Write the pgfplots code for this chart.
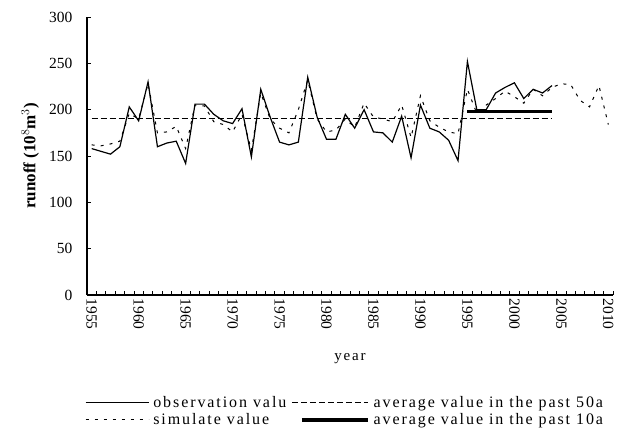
\documentclass[border=0pt]{standalone}
\usepackage{pgfplots}
\pgfplotsset{compat=1.18}
\usepackage{pgfplotstable}
\usepackage{fontspec}
\setmainfont{Liberation Serif}
\newfontfamily\legfont[LetterSpace=12]{Liberation Serif}

\pgfplotsset{
  shortleg/.style={legend image code/.code={\draw[##1] (0pt,0pt) -- (63pt,0pt);}},
  longleg/.style={legend image code/.code={\draw[##1] (0pt,0pt) -- (76pt,0pt);}},
  thickleg/.style={legend image code/.code={\draw[##1] (10pt,0pt) -- (76pt,0pt);}},
}

\pgfplotstableread{
year obs
1955 158
1956 155
1957 152
1958 160
1959 203
1960 188
1961 230
1962 160
1963 164
1964 166
1965 142
1966 206
1967 206
1968 195
1969 188
1970 185
1971 201
1972 149
1973 222
1974 192
1975 165
1976 162
1977 165
1978 235
1979 192
1980 168
1981 168
1982 195
1983 180
1984 200
1985 176
1986 175
1987 165
1988 193
1989 148
1990 205
1991 180
1992 176
1993 167
1994 145
1995 252
1996 200
1997 200
1998 218
1999 224
2000 229
2001 212
2002 222
2003 218
2004 226
}\obsdata

\pgfplotstableread{
year sim
1955 162
1956 161
1957 163
1958 166
1959 196
1960 190
1961 228
1962 175
1963 176
1964 182
1965 158
1966 205
1967 204
1968 187
1969 184
1970 176
1971 195
1972 156
1973 218
1974 190
1975 180
1976 175
1977 200
1978 232
1979 190
1980 176
1981 178
1982 190
1983 181
1984 207
1985 192
1986 190
1987 187
1988 205
1989 170
1990 215
1991 188
1992 181
1993 176
1994 174
1995 222
1996 196
1997 205
1998 212
1999 220
2000 214
2001 207
2002 222
2003 215
2004 224
2005 228
2006 227
2007 210
2008 203
2009 226
2010 184
}\simdata

\begin{document}
\begin{tikzpicture}[x=1pt,y=1pt]
\path[use as bounding box] (0pt,0pt) rectangle (636pt,-432pt);
\begin{axis}[
  at={(87pt,-295pt)}, anchor=south west,
  scale only axis, width=526pt, height=278pt,
  xmin=1954.5, xmax=2010.5, ymin=0, ymax=300,
  axis lines*=left,
  axis line style={line width=1.2pt},
  tick align=inside,
  xtick={1955,1960,...,2010},
  minor xtick={1954.5,1955.5,...,2010.5},
  major x tick style={draw=none},
  minor x tick style={black, line width=0.8pt},
  minor tick length=4pt,
  major tick length=4pt,
  ytick={0,50,...,300},
  major y tick style={black, line width=0.8pt},
  /pgf/number format/assume math mode=true,
  /pgf/number format/1000 sep={},
  xticklabel style={rotate=-90, anchor=west, font=\fontsize{15.5}{17}\selectfont},
  yticklabel style={font=\fontsize{15.5}{17}\selectfont, xshift=-11pt},
  xlabel={year},
  xlabel style={at={(axis description cs:0.5,-0.228)}, anchor=center, font=\legfont\fontsize{15}{17}\selectfont},
  ylabel={runoff (10$^{8}$m$^{3}$)},
  ylabel style={at={(axis description cs:-0.108,0.5)}, anchor=center, font=\fontsize{17}{19}\selectfont\bfseries},
  legend columns=2,
  legend cell align=left,
  shortleg,
  legend style={at={(-0.004,-0.355)}, anchor=north west, draw=none, fill=none,
    font=\legfont\fontsize{16}{18}\selectfont, inner xsep=0pt, inner ysep=0pt,
    row sep=1pt,
    /tikz/every odd column/.append style={column sep=2pt},
    /tikz/every even column/.append style={column sep=3pt}},
  clip=false,
]
\addplot[black, line width=1.2pt] table[x=year, y=obs] {\obsdata};
\addlegendentry{observation valu}
\addplot[black, line width=1pt, dash pattern=on 6pt off 3pt, longleg] coordinates {(1955,191) (2004,191)};
\addlegendentry{average value in the past 50a}
\addplot[black, line width=1pt, dash pattern=on 3pt off 6pt] table[x=year, y=sim] {\simdata};
\addlegendentry{simulate value}
\addplot[black, line width=3.5pt, thickleg] coordinates {(1995,198) (2004,198)};
\addlegendentry{average value in the past 10a}
\end{axis}
\end{tikzpicture}
\end{document}
